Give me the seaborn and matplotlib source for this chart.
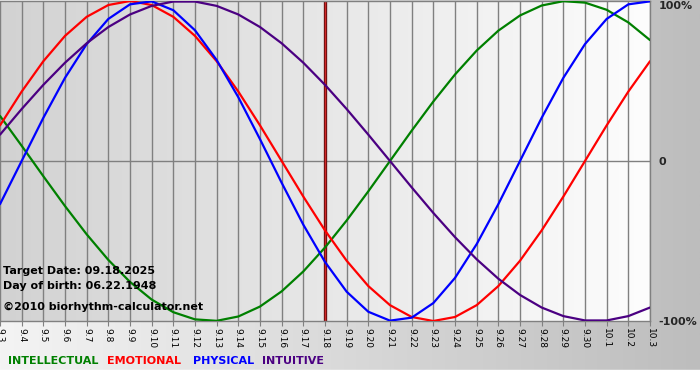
import numpy as np
import pandas as pd
import matplotlib
matplotlib.use("Agg")
import matplotlib.pyplot as plt
from matplotlib.colors import LinearSegmentedColormap
import seaborn as sns

# ---------------- data ----------------
dates = ["9.3", "9.4", "9.5", "9.6", "9.7", "9.8", "9.9", "9.10", "9.11", "9.12",
         "9.13", "9.14", "9.15", "9.16", "9.17", "9.18", "9.19", "9.20", "9.21",
         "9.22", "9.23", "9.24", "9.25", "9.26", "9.27", "9.28", "9.29", "9.30",
         "10.1", "10.2", "10.3"]

intellectual = [0.2817, 0.0951, -0.0951, -0.2817, -0.4582, -0.6182, -0.7557, -0.8660,
                -0.9450, -0.9898, -0.9989, -0.9718, -0.9096, -0.8146, -0.6901, -0.5406,
                -0.3717, -0.1893, 0.0, 0.1893, 0.3717, 0.5406, 0.6901, 0.8146, 0.9096,
                0.9718, 0.9989, 0.9898, 0.9450, 0.8660, 0.7557]

emotional = [0.2225, 0.4339, 0.6235, 0.7818, 0.9010, 0.9749, 1.0, 0.9749, 0.9010,
             0.7818, 0.6235, 0.4339, 0.2225, 0.0, -0.2225, -0.4339, -0.6235, -0.7818,
             -0.9010, -0.9749, -1.0, -0.9749, -0.9010, -0.7818, -0.6235, -0.4339,
             -0.2225, 0.0, 0.2225, 0.4339, 0.6235]

physical = [-0.2698, 0.0, 0.2698, 0.5196, 0.7308, 0.8879, 0.9791, 0.9977, 0.9423,
            0.8170, 0.6310, 0.3984, 0.1362, -0.1362, -0.3984, -0.6310, -0.8170,
            -0.9423, -0.9977, -0.9791, -0.8879, -0.7308, -0.5196, -0.2698, 0.0,
            0.2698, 0.5196, 0.7308, 0.8879, 0.9791, 0.9977]

intuitive = [0.1646, 0.3247, 0.4759, 0.6142, 0.7357, 0.8372, 0.9158, 0.9694, 0.9966,
             0.9966, 0.9694, 0.9158, 0.8372, 0.7357, 0.6142, 0.4759, 0.3247, 0.1646,
             0.0, -0.1646, -0.3247, -0.4759, -0.6142, -0.7357, -0.8372, -0.9158,
             -0.9694, -0.9966, -0.9966, -0.9694, -0.9158]

series_names = ["INTELLECTUAL", "EMOTIONAL", "PHYSICAL", "INTUITIVE"]
series_colors = ["#008000", "#ff0000", "#0000ff", "#4b0082"]
target_date = "9.18"
y_labels = ["-100%", "0", "100%"]
info_lines = ["Target Date: 09.18.2025", "Day of birth: 06.22.1948",
              "\u00a92010 biorhythm-calculator.net"]

# ---------------- build table ----------------
day_idx = np.arange(len(dates))
df = pd.concat([
    pd.DataFrame({"day": day_idx, "value": vals, "series": name})
    for name, vals in zip(series_names, [intellectual, emotional, physical, intuitive])
], ignore_index=True)

sns.set_theme(style="white")
plt.rcParams["font.family"] = ["DejaVu Sans"]

W, H = 700, 380
fig = plt.figure(figsize=(W / 100, H / 100), dpi=100)

# figure background gradient
bg = fig.add_axes([0, 0, 1, 1], zorder=-10)
grad = np.linspace(0, 1, 256)[None, :]
bg_cmap = LinearSegmentedColormap.from_list("bg", ["#f4f4f4", "#bdbdbd"])
bg.imshow(grad, aspect="auto", cmap=bg_cmap, extent=[0, 1, 0, 1])
bg.fill_between([0, 1], 0, 10 / H, color="white", zorder=2)
bg.set_xlim(0, 1)
bg.set_ylim(0, 1)
bg.axis("off")

ax = fig.add_axes([0.0, 1 - 321 / H, 650 / W, (321 - 1) / H])
ax.set_xlim(0, len(dates) - 1)
ax.set_ylim(-1, 1)

plot_cmap = LinearSegmentedColormap.from_list("pa", ["#d2d2d2", "#fdfdfd"])
ax.imshow(grad, aspect="auto", cmap=plot_cmap,
          extent=[0, len(dates) - 1, -1, 1], zorder=0)

# grid lines per day + zero line
ax.set_xticks(day_idx)
ax.set_xticklabels(dates, rotation=270, fontsize=6.5, color="black")
ax.set_yticks([-1, 0, 1])
ax.set_yticklabels(y_labels)
ax.grid(True, axis="x", color="#808080", lw=1.0, zorder=1)
ax.axhline(0, color="#808080", lw=1.0, zorder=1)

# target date line
t_i = dates.index(target_date)
ax.axvline(t_i, color="#701010", lw=2.4, zorder=2)
ax.axvline(t_i, color="#d02828", lw=0.8, zorder=2)

sns.lineplot(data=df, x="day", y="value", hue="series",
             palette=dict(zip(series_names, series_colors)),
             hue_order=series_names, lw=1.6, legend=False, ax=ax, zorder=3)
ax.set_xlabel("")
ax.set_ylabel("")

ax.tick_params(axis="x", direction="out", length=3.5, width=0.8, color="#808080",
               pad=1.5, bottom=True)
ax.yaxis.tick_right()
ax.tick_params(axis="y", length=0, pad=6, labelsize=8)
ylabs = ax.get_yticklabels()
for lab in ylabs:
    lab.set_fontweight("bold")
ylabs[-1].set_va("top")
for lab in ax.get_xticklabels():
    lab.set_va("top")
    lab.set_ha("center")

for s in ["top", "bottom"]:
    ax.spines[s].set_color("#808080")
    ax.spines[s].set_linewidth(1.0)
ax.spines["left"].set_visible(False)
ax.spines["right"].set_color("#808080")
ax.spines["right"].set_linewidth(1.0)

# info text
for line, ypx in zip(info_lines, [271, 286, 307]):
    fig.text(3 / W, 1 - ypx / H, line, fontsize=8, fontweight="bold",
             color="black", va="center", ha="left")

# coloured legend words
for name, col, xpx in zip(series_names, series_colors, [8, 107, 193, 262]):
    fig.text(xpx / W, 1 - 361 / H, name, fontsize=8, fontweight="bold",
             color=col, va="center", ha="left")

fig.savefig("out.png", dpi=100)
